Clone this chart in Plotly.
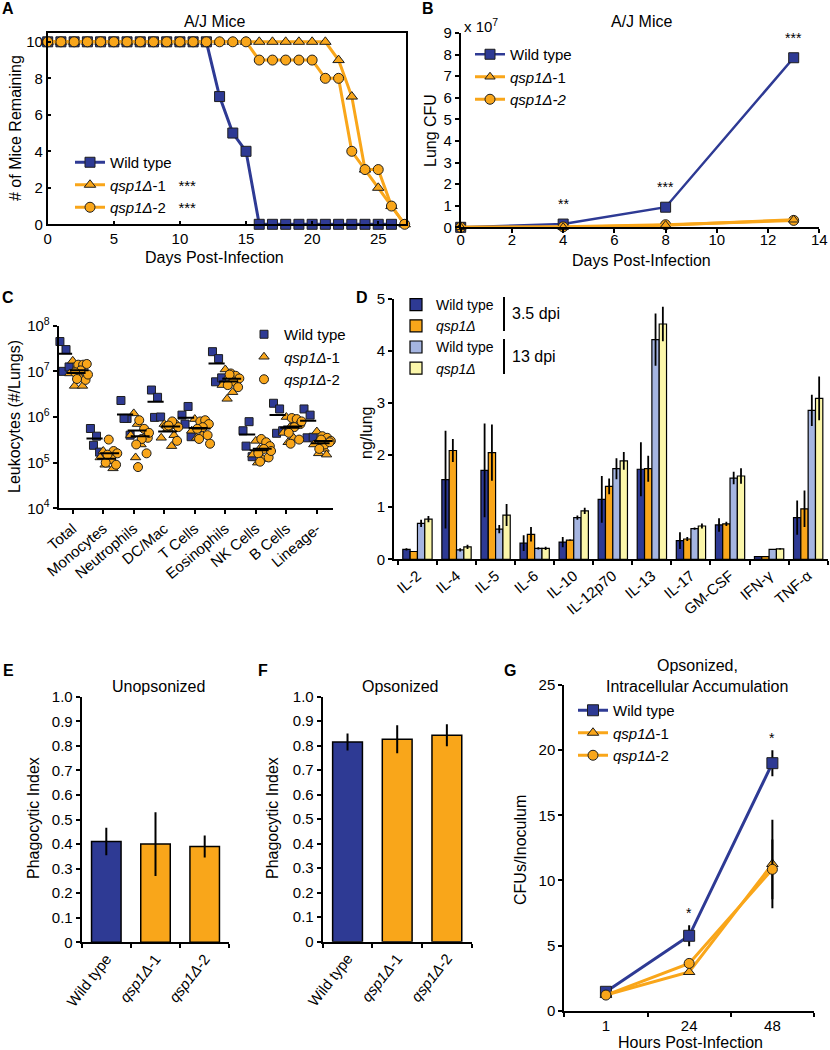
import plotly.graph_objects as go

W, H = 830, 1050
NAVY = "#2e3a94"
ORANGE = "#f9a61a"
LBLUE = "#a5b5e1"
LYEL = "#fbf6aa"
EDGE = "#1e1e1e"
FONT = "Liberation Sans"

# ---------------- data ----------------
# Panel A: survival
a_wt_days = list(range(0, 27))
a_wt = [10] * 13 + [7, 5, 4] + [0] * 11
a_q1_days = list(range(0, 28))
a_q1 = [10] * 22 + [9, 7, 3, 2, 1, 0]
a_q2_days = list(range(0, 28))
a_q2 = [10] * 16 + [9, 9, 9, 9, 9] + [8, 8] + [4, 3, 3, 1, 0]

# Panel B: lung CFU (x 10^7)
b_days = [0, 4, 8, 13]
b_wt = [0.0, 0.15, 0.93, 7.85]
b_q1 = [0.0, 0.0, 0.10, 0.35]
b_q2 = [0.0, 0.02, 0.12, 0.32]
b_sig = ["", "**", "***", "***"]

# Panel C: leukocytes
c_cats = ["Total", "Monocytes", "Neutrophils", "DC/Mac", "T Cells",
          "Eosinophils", "NK Cells", "B Cells", "Lineage-"]
c_wt = [
    [4.5e7, 3.0e7, 1.0e7, 1.25e7],
    [5.6e5, 3.8e5, 2.4e5, 1.7e5],
    [2.3e6, 9.3e5, 9.3e5, 4.0e5],
    [3.9e6, 2.7e6, 9.8e5, 1.0e6],
    [1.1e6, 1.7e6, 7.0e5, 3.7e5],
    [2.7e7, 1.9e7, 5.9e6, 7.2e6],
    [5.0e5, 7.9e5, 2.3e5, 1.35e5],
    [2.0e6, 1.5e6, 4.4e5, 5.0e5],
    [1.5e6, 1.1e6, 3.5e5, 3.6e5],
]
c_q1 = [
    [1.7e7, 1.2e7, 9e6, 7.5e6, 4.8e6, 4.8e6],
    [1.8e5, 1.5e5, 1.3e5, 1.1e5, 9e4, 7.5e4],
    [1.2e6, 7e5, 4e5, 2.5e5, 1.3e5, 3.5e5],
    [7e5, 5.5e5, 3.5e5, 2.3e5, 6.5e5, 4e5],
    [9e5, 6e5, 5e5, 4e5, 3.5e5, 7e5],
    [1.1e7, 8e6, 5e6, 3.5e6, 2.5e6, 6e6],
    [3e5, 2e5, 1.5e5, 1.2e5, 1e5, 2.5e5],
    [1e6, 6e5, 4.5e5, 3.5e5, 2.8e5, 8e5],
    [4.8e5, 3.5e5, 2.5e5, 2e5, 1.6e5, 1.5e5],
]
c_q2 = [
    [1.4e7, 1.4e7, 1.45e7, 1.05e7, 9.5e6, 6.5e6, 6.8e6, 8.5e6],
    [3.2e5, 1.8e5, 1.6e5, 1.2e5, 1e5, 9e4, 1.5e5],
    [8.5e5, 5.5e5, 3.5e5, 3.3e5, 2.5e5, 1.6e5, 8e4, 4.5e5],
    [6.5e5, 7e5, 6e5, 8e5, 6.2e5, 3e5, 6.5e5],
    [8e5, 8.5e5, 7e5, 6e5, 5.5e5, 4e5, 3.3e5, 2.6e5],
    [9e6, 8e6, 7e6, 6e6, 5e6, 4.5e6, 8.5e6],
    [3.3e5, 2.8e5, 2.3e5, 2e5, 1.6e5, 1.3e5, 1.05e5, 1.8e5],
    [9.5e5, 9e5, 7e5, 6e5, 4.5e5, 3.2e5, 2.6e5, 8e5],
    [3.8e5, 3.5e5, 3e5, 2.5e5, 2e5, 2.8e5, 3.2e5],
]

# Panel D: cytokines (ng/lung)
d_cats = ["IL-2", "IL-4", "IL-5", "IL-6", "IL-10", "IL-12p70", "IL-13",
          "IL-17", "GM-CSF", "IFN-γ", "TNF-α"]
d_wt35 = [0.19, 1.53, 1.71, 0.31, 0.33, 1.15, 1.73, 0.36, 0.66, 0.05, 0.80]
d_wt35_err = [0.02, 0.94, 0.90, 0.15, 0.10, 0.45, 0.52, 0.16, 0.13, 0.0, 0.33]
d_q35 = [0.15, 2.09, 2.05, 0.48, 0.37, 1.40, 1.74, 0.39, 0.68, 0.05, 0.97]
d_q35_err = [0.01, 0.22, 0.54, 0.14, 0.01, 0.15, 0.25, 0.04, 0.04, 0.0, 0.35]
d_wt13 = [0.69, 0.18, 0.58, 0.21, 0.80, 1.74, 4.22, 0.59, 1.56, 0.19, 2.86]
d_wt13_err = [0.07, 0.03, 0.08, 0.02, 0.04, 0.20, 0.50, 0.02, 0.12, 0.01, 0.30]
d_q13 = [0.77, 0.24, 0.85, 0.21, 0.93, 1.89, 4.52, 0.64, 1.60, 0.20, 3.09]
d_q13_err = [0.06, 0.04, 0.21, 0.03, 0.06, 0.17, 0.33, 0.05, 0.15, 0.01, 0.42]

# Panels E, F: phagocytic index
ef_cats = ["Wild type", "<i>qsp1Δ</i>-1", "<i>qsp1Δ</i>-2"]
e_vals = [0.41, 0.40, 0.39]
e_err = [0.056, 0.13, 0.045]
f_vals = [0.815, 0.826, 0.843]
f_err = [0.035, 0.057, 0.045]
ef_yticks = [0, 0.1, 0.2, 0.3, 0.4, 0.5, 0.6, 0.7, 0.8, 0.9, 1.0]
ef_yticktext = ["0", "0.1", "0.2", "0.3", "0.4", "0.5", "0.6", "0.7", "0.8", "0.9", "1.0"]

# Panel G: intracellular accumulation
g_hours = ["1", "24", "48"]
g_wt = [1.45, 5.75, 19.0]
g_wt_err = [0.15, 0.8, 1.0]
g_q1 = [1.2, 2.97, 11.26]
g_q1_err = [0.15, 0.2, 3.4]
g_q2 = [1.2, 3.63, 10.85]
g_q2_err = [0.15, 0.3, 2.3]
g_sig = ["", "*", "*"]

# ---------------- helpers ----------------
def px(x):
    return x / W

def py(y):
    return 1 - y / H

def dom_x(a, b):
    return [px(a), px(b)]

def dom_y(top, bottom):
    return [py(bottom), py(top)]

def axis(domain, rng=None, lw=1.5, **kw):
    d = dict(domain=domain, showline=True, linecolor="black", linewidth=lw,
             ticks="outside", ticklen=4, tickwidth=1.5, tickcolor="black",
             showgrid=False, zeroline=False, automargin=False,
             tickfont=dict(size=15, color="black", family=FONT))
    if rng is not None:
        d["range"] = rng
    d.update(kw)
    return d

def mk(symbol, color, size):
    return dict(symbol=symbol, color=color, size=size,
                line=dict(color=EDGE, width=1))

fig = go.Figure()

# ---------------- Panel A ----------------
fig.add_trace(go.Scatter(x=a_wt_days, y=a_wt, mode="lines+markers", name="Wild type",
                         line=dict(color=NAVY, width=3), marker=mk("square", NAVY, 10),
                         xaxis="x", yaxis="y", legend="legend", cliponaxis=False))
fig.add_trace(go.Scatter(x=a_q1_days, y=a_q1, mode="lines+markers",
                         name="<i>qsp1Δ</i>-1\u00a0\u00a0\u00a0***",
                         line=dict(color=ORANGE, width=3), marker=mk("triangle-up", ORANGE, 10),
                         xaxis="x", yaxis="y", legend="legend", cliponaxis=False))
fig.add_trace(go.Scatter(x=a_q2_days, y=a_q2, mode="lines+markers",
                         name="<i>qsp1Δ</i>-2\u00a0\u00a0\u00a0***",
                         line=dict(color=ORANGE, width=3), marker=mk("circle", ORANGE, 10),
                         xaxis="x", yaxis="y", legend="legend", cliponaxis=False))

# ---------------- Panel B ----------------
fig.add_trace(go.Scatter(x=b_days, y=b_wt, mode="lines+markers", name="Wild type",
                         line=dict(color=NAVY, width=2.5), marker=mk("square", NAVY, 10),
                         xaxis="x2", yaxis="y2", legend="legend2", cliponaxis=False,
                         legendrank=1))
fig.add_trace(go.Scatter(x=b_days, y=b_q2, mode="lines+markers", name="<i>qsp1Δ-2</i>",
                         line=dict(color=ORANGE, width=3), marker=mk("circle", ORANGE, 10),
                         xaxis="x2", yaxis="y2", legend="legend2", cliponaxis=False,
                         legendrank=3))
fig.add_trace(go.Scatter(x=b_days, y=b_q1, mode="lines+markers", name="<i>qsp1Δ</i>-1",
                         line=dict(color=ORANGE, width=3), marker=mk("triangle-up", ORANGE, 9),
                         xaxis="x2", yaxis="y2", legend="legend2", cliponaxis=False,
                         legendrank=2))

# ---------------- Panel C ----------------
wt_off = [-0.42, -0.22, -0.32, -0.12]
q1_off = [0.0, 0.12, -0.1, 0.24, 0.06, 0.32, 0.18, -0.04]
q2_off = [0.18, 0.34, 0.46, 0.26, 0.08, 0.42, 0.14, 0.5]

def spread(groups, offs):
    xs, ys = [], []
    for i, g in enumerate(groups):
        for j, v in enumerate(g):
            xs.append(i + offs[j % len(offs)])
            ys.append(v)
    return xs, ys

for groups, offs, name, sym, col, sz in [
        (c_wt, wt_off, "Wild type", "square", NAVY, 8),
        (c_q1, q1_off, "<i>qsp1Δ</i>-1", "triangle-up", ORANGE, 9),
        (c_q2, q2_off, "<i>qsp1Δ</i>-2", "circle", ORANGE, 9)]:
    xs, ys = spread(groups, offs)
    fig.add_trace(go.Scatter(x=xs, y=ys, mode="markers", name=name,
                             marker=mk(sym, col, sz), xaxis="x3", yaxis="y3",
                             legend="legend3", cliponaxis=False))

for groups, (lo, hi) in [(c_wt, (-0.55, -0.02)), (c_q1, (-0.2, 0.42)), (c_q2, (-0.1, 0.52))]:
    mx, my = [], []
    for i, g in enumerate(groups):
        m = sum(g) / len(g)
        mx += [i + lo, i + hi, None]
        my += [m, m, None]
    fig.add_trace(go.Scatter(x=mx, y=my, mode="lines", line=dict(color="black", width=2),
                             showlegend=False, xaxis="x3", yaxis="y3", hoverinfo="skip"))

# ---------------- Panel D ----------------
for vals, errs, name, col in [
        (d_wt35, d_wt35_err, "Wild type", NAVY),
        (d_q35, d_q35_err, "<i>qsp1Δ</i>", ORANGE),
        (d_wt13, d_wt13_err, "Wild type", LBLUE),
        (d_q13, d_q13_err, "<i>qsp1Δ</i>", LYEL)]:
    fig.add_trace(go.Bar(x=d_cats, y=vals, name=name,
                         marker=dict(color=col, line=dict(color="black", width=1.2)),
                         error_y=dict(type="data", array=errs, color="black", thickness=1.8, width=0),
                         xaxis="x4", yaxis="y4", legend="legend4"))

# ---------------- Panels E, F ----------------
ef_colors = [NAVY, ORANGE, ORANGE]
fig.add_trace(go.Bar(x=ef_cats, y=e_vals, width=0.6,
                     marker=dict(color=ef_colors, line=dict(color="black", width=1.5)),
                     error_y=dict(type="data", array=e_err, color="black", thickness=2, width=0),
                     showlegend=False, xaxis="x5", yaxis="y5"))
fig.add_trace(go.Bar(x=ef_cats, y=f_vals, width=0.6,
                     marker=dict(color=ef_colors, line=dict(color="black", width=1.5)),
                     error_y=dict(type="data", array=f_err, color="black", thickness=2, width=0),
                     showlegend=False, xaxis="x6", yaxis="y6"))

# ---------------- Panel G ----------------
for vals, errs, name, sym, col, sz in [
        (g_wt, g_wt_err, "Wild type", "square", NAVY, 11),
        (g_q1, g_q1_err, "<i>qsp1Δ</i>-1", "triangle-up", ORANGE, 10),
        (g_q2, g_q2_err, "<i>qsp1Δ</i>-2", "circle", ORANGE, 10)]:
    fig.add_trace(go.Scatter(x=g_hours, y=vals, mode="lines+markers", name=name,
                             line=dict(color=col, width=3), marker=mk(sym, col, sz),
                             error_y=dict(type="data", array=errs, color="black", thickness=2, width=0),
                             xaxis="x7", yaxis="y7", legend="legend5", cliponaxis=False))

# ---------------- layout ----------------
layout = dict(
    width=W, height=H, margin=dict(l=0, r=0, t=0, b=0, pad=0, autoexpand=False),
    paper_bgcolor="white", plot_bgcolor="white",
    font=dict(family=FONT, size=15, color="black"),
    barmode="group", bargap=0.25, bargroupgap=0.0,
    showlegend=True,
)

# A
layout["xaxis"] = axis(dom_x(47.7, 406), [0, 27.1], anchor="y", mirror=True, ticks="inside",
                       tickvals=[0, 5, 10, 15, 20, 25])
layout["yaxis"] = axis(dom_y(32.7, 224.3), [0, 10.5], anchor="x", mirror=True, ticks="inside",
                       tickvals=[0, 2, 4, 6, 8, 10])
# B
layout["xaxis2"] = axis(dom_x(460.7, 819.3), [0, 14], anchor="y2", tickvals=list(range(0, 15, 2)),
                        ticklabelstandoff=-6)
layout["yaxis2"] = axis(dom_y(32.9, 227.3), [0, 9], anchor="x2", tickvals=list(range(0, 10)))
# C
layout["xaxis3"] = axis(dom_x(58.7, 333), [-0.46, 8.53], anchor="y3", lw=2,
                        tickvals=list(range(len(c_cats))), ticktext=c_cats, tickangle=-40)
layout["yaxis3"] = axis(dom_y(325.7, 508.3), [4, 8], anchor="x3", type="log", lw=2,
                        tickvals=[1e4, 1e5, 1e6, 1e7, 1e8],
                        ticktext=["10<sup>4</sup>", "10<sup>5</sup>", "10<sup>6</sup>",
                                  "10<sup>7</sup>", "10<sup>8</sup>"])
# D
layout["xaxis4"] = axis(dom_x(394, 827.7), [-0.6, 10.5], anchor="y4", lw=2, type="category",
                        tickson="boundaries", tickangle=-40)
layout["yaxis4"] = axis(dom_y(299, 559.3), [0, 5], anchor="x4", lw=2, tickvals=[0, 1, 2, 3, 4, 5])
# E
layout["xaxis5"] = axis(dom_x(81.7, 229.3), [-0.5, 2.5], anchor="y5", lw=2, type="category",
                        tickson="boundaries", tickangle=-52)
layout["yaxis5"] = axis(dom_y(696.7, 942.3), [0, 1.0], anchor="x5", lw=2,
                        tickvals=ef_yticks, ticktext=ef_yticktext)
# F
layout["xaxis6"] = axis(dom_x(322.7, 471.7), [-0.5, 2.5], anchor="y6", lw=2, type="category",
                        tickson="boundaries", tickangle=-52)
layout["yaxis6"] = axis(dom_y(696.7, 941.7), [0, 1.0], anchor="x6", lw=2,
                        tickvals=ef_yticks, ticktext=ef_yticktext)
# G
layout["xaxis7"] = axis(dom_x(564.3, 814), [-0.5, 2.5], anchor="y7", lw=2, type="category",
                        tickson="boundaries")
layout["yaxis7"] = axis(dom_y(685, 1010.7), [0, 25], anchor="x7", lw=2,
                        tickvals=[0, 5, 10, 15, 20, 25])

leg_common = dict(xanchor="left", yanchor="top", bgcolor="rgba(0,0,0,0)", borderwidth=0,
                  font=dict(size=15, family=FONT, color="black"), tracegroupgap=0)
layout["legend"] = dict(leg_common, x=px(70), y=py(146))
layout["legend2"] = dict(leg_common, x=px(470), y=py(38))
layout["legend3"] = dict(leg_common, x=px(244), y=py(318), itemwidth=30)
layout["legend4"] = dict(leg_common, x=px(396), y=py(289), font=dict(size=14, family=FONT, color="black"))
layout["legend5"] = dict(leg_common, x=px(573), y=py(694))

ann = []

def text(x, y, s, size=16, bold=False, angle=0, xanchor="center", yanchor="middle"):
    ann.append(dict(x=px(x), y=py(y), xref="paper", yref="paper", text=(f"<b>{s}</b>" if bold else s),
                    showarrow=False, textangle=angle, xanchor=xanchor, yanchor=yanchor,
                    font=dict(size=size, family=FONT, color="black")))

# panel letters
for letter, x, y in [("A", 8, 9), ("B", 428, 9), ("C", 8, 297), ("D", 362, 297),
                     ("E", 8, 670), ("F", 263, 670), ("G", 510, 670)]:
    text(x, y, letter, size=16, bold=True)

# A texts
text(214, 22, "A/J Mice")
text(214, 257, "Days Post-Infection")
text(15, 128, "# of Mice Remaining", angle=-90)
# B texts
text(641, 22, "A/J Mice")
text(641, 260, "Days Post-Infection")
text(431, 131, "Lung CFU", angle=-90)
text(462, 25, "x 10<sup>7</sup>", size=15, xanchor="left")
# C / D
text(14, 417, "Leukocytes (#/Lungs)", angle=-90)
text(366, 433, "ng/lung", angle=-90)
# E / F / G
text(158, 686, "Unopsonized")
text(400, 686, "Opsonized")
text(33, 818, "Phagocytic Index", angle=-90)
text(272, 818, "Phagocytic Index", angle=-90)
text(697, 666, "Opsonized,")
text(697, 686, "Intracellular Accumulation")
text(520, 850, "CFUs/Inoculum", angle=-90)
text(690, 1042, "Hours Post-Infection")

# D legend brackets
text(510, 314, "3.5 dpi", xanchor="left")
text(510, 356, "13 dpi", xanchor="left")
shapes = [
    dict(type="line", xref="paper", yref="paper", x0=px(504), x1=px(504), y0=py(297), y1=py(331),
         line=dict(color="black", width=2)),
    dict(type="line", xref="paper", yref="paper", x0=px(504), x1=px(504), y0=py(339), y1=py(374),
         line=dict(color="black", width=2)),
]

# significance stars (data coordinates)
for xv, yv, s in zip(b_days, b_wt, b_sig):
    if s:
        ann.append(dict(x=xv, y=yv + 0.45, xref="x2", yref="y2", text=s, showarrow=False,
                        yanchor="bottom", font=dict(size=14, family=FONT, color="black")))
for i, (yv, ev, s) in enumerate(zip(g_wt, g_wt_err, g_sig)):
    if s:
        ann.append(dict(x=i, y=yv + ev + 0.2, xref="x7", yref="y7", text=s, showarrow=False,
                        yanchor="bottom", font=dict(size=14, family=FONT, color="black")))

layout["annotations"] = ann
layout["shapes"] = shapes
fig.update_layout(**layout)

fig.write_html("out.html", config={"displayModeBar": False},
               post_script="document.body.style.margin='0';document.body.style.padding='0';"
                           "document.body.style.overflow='hidden';")
